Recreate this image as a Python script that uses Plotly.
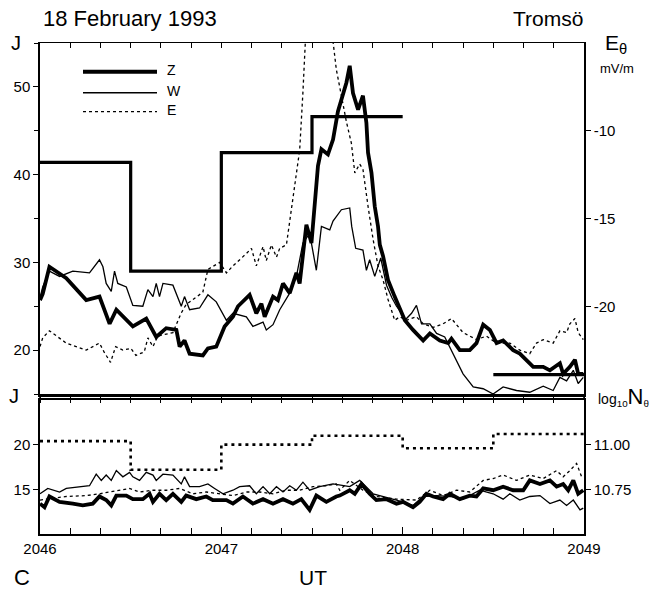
import plotly.graph_objects as go

# ---------------- DATA ----------------
# Top panel: Z (thick), W (thin) in J; E (dashed) in mV/m (right axis)
z_top_t = [2046.00, 2046.015, 2046.052, 2046.145, 2046.255, 2046.328, 2046.384, 2046.421, 2046.512, 2046.586,
           2046.641, 2046.696, 2046.752, 2046.770, 2046.797, 2046.825, 2046.898, 2046.926, 2046.972, 2047.018,
           2047.064, 2047.092, 2047.156, 2047.193, 2047.221, 2047.239, 2047.285, 2047.312, 2047.340, 2047.377,
           2047.414, 2047.432, 2047.469, 2047.497, 2047.533, 2047.552, 2047.588, 2047.616, 2047.643, 2047.690,
           2047.708, 2047.726, 2047.754, 2047.781, 2047.800, 2047.809, 2047.828, 2047.846, 2047.864, 2047.874,
           2047.892, 2047.919, 2047.956, 2047.984, 2048.012, 2048.057, 2048.113, 2048.150, 2048.205, 2048.251,
           2048.269, 2048.315, 2048.370, 2048.407, 2048.444, 2048.481, 2048.518, 2048.554, 2048.609, 2048.646,
           2048.683, 2048.720, 2048.775, 2048.812, 2048.867, 2048.885, 2048.922, 2048.950, 2048.968, 2048.996]
z_top_j = [25.7, 26.4, 29.5, 28.2, 25.7, 26.1, 23.0, 24.6, 22.7, 23.6,
           21.5, 22.5, 22.3, 20.4, 21.1, 19.6, 19.4, 20.2, 20.4, 22.7,
           23.8, 25.0, 26.3, 24.2, 25.3, 23.8, 26.1, 25.7, 27.6, 26.5,
           28.8, 27.6, 34.3, 32.2, 41.0, 42.9, 42.3, 44.0, 47.2, 50.5,
           52.4, 49.3, 47.4, 49.0, 45.9, 42.5, 40.2, 36.4, 34.1, 32.0,
           30.7, 28.0, 26.1, 24.6, 23.4, 22.3, 21.1, 21.9, 21.1, 20.8,
           21.3, 20.0, 20.0, 20.8, 22.9, 22.3, 20.8, 21.1, 20.0, 19.6,
           18.9, 18.1, 18.1, 17.7, 18.5, 17.3, 18.1, 18.9, 17.3, 17.3]

w_top_t = [2046.00, 2046.015, 2046.052, 2046.108, 2046.181, 2046.273, 2046.328, 2046.347, 2046.365, 2046.393,
           2046.411, 2046.429, 2046.476, 2046.512, 2046.567, 2046.595, 2046.623, 2046.641, 2046.659, 2046.678,
           2046.733, 2046.779, 2046.797, 2046.825, 2046.880, 2046.926, 2046.972, 2047.028, 2047.064, 2047.138,
           2047.174, 2047.230, 2047.248, 2047.285, 2047.322, 2047.377, 2047.414, 2047.450, 2047.487, 2047.524,
           2047.552, 2047.598, 2047.616, 2047.662, 2047.708, 2047.719, 2047.741, 2047.781, 2047.800, 2047.818,
           2047.846, 2047.879, 2047.911, 2047.940, 2047.966, 2047.995, 2048.012, 2048.049, 2048.076, 2048.104,
           2048.150, 2048.187, 2048.232, 2048.278, 2048.333, 2048.389, 2048.444, 2048.499, 2048.554, 2048.628,
           2048.701, 2048.775, 2048.830, 2048.867, 2048.904, 2048.941, 2048.968, 2048.996]
w_top_j = [26.0, 27.2, 29.0, 28.4, 29.0, 28.8, 30.3, 29.5, 27.6, 26.7,
           29.0, 27.6, 27.2, 25.1, 25.0, 26.9, 26.1, 27.6, 26.1, 27.6,
           27.4, 25.0, 26.1, 24.6, 24.8, 26.3, 25.5, 23.4, 24.2, 23.8,
           22.7, 23.2, 22.3, 22.9, 24.6, 26.5, 28.4, 32.2, 33.3, 29.1,
           34.1, 33.7, 34.7, 36.0, 36.2, 34.1, 31.6, 31.4, 29.1, 30.3,
           28.4, 30.5, 27.4, 26.0, 25.0, 24.2, 23.4, 24.2, 25.1, 23.0,
           23.0, 21.9, 21.5, 19.6, 17.3, 15.8, 15.6, 15.0, 15.8, 15.4,
           15.2, 15.9, 15.4, 16.9, 16.5, 17.7, 16.2, 16.9]

e_top_t = [2046.00, 2046.015, 2046.052, 2046.145, 2046.255, 2046.328, 2046.353, 2046.389, 2046.417, 2046.457,
           2046.501, 2046.529, 2046.575, 2046.595, 2046.623, 2046.650, 2046.733, 2046.778, 2046.806, 2046.862,
           2046.898, 2046.926, 2046.991, 2047.028, 2047.064, 2047.138, 2047.166, 2047.193, 2047.230, 2047.248,
           2047.276, 2047.304, 2047.322, 2047.359, 2047.395, 2047.432, 2047.450, 2047.470, 2047.600, 2047.616,
           2047.634, 2047.662, 2047.690, 2047.717, 2047.736, 2047.763, 2047.781, 2047.809, 2047.837, 2047.864,
           2047.892, 2047.919, 2047.956, 2047.984, 2048.021, 2048.076, 2048.113, 2048.168, 2048.223, 2048.269,
           2048.295, 2048.333, 2048.370, 2048.407, 2048.462, 2048.518, 2048.591, 2048.646, 2048.701, 2048.738,
           2048.775, 2048.830, 2048.867, 2048.904, 2048.922, 2048.950, 2048.968, 2048.996]
e_top_mv = [-22.3, -21.8, -21.4, -22.1, -22.5, -22.1, -22.6, -23.2, -22.3, -22.5,
            -22.4, -22.8, -22.6, -21.8, -22.3, -21.7, -21.5, -20.4, -19.9, -19.45,
            -19.2, -17.9, -17.5, -18.1, -17.7, -17.0, -16.7, -17.7, -16.6, -17.4,
            -16.5, -17.2, -16.7, -16.5, -13.9, -11.1, -7.8, -3.5, -3.5, -4.8,
            -6.5, -8.0, -9.5, -10.7, -12.4, -11.9, -12.2, -14.3, -16.2, -17.7,
            -18.5, -19.6, -20.8, -20.6, -20.8, -20.6, -21.0, -21.2, -21.0, -20.7,
            -21.0, -21.5, -21.7, -21.9, -21.7, -22.1, -22.1, -22.5, -22.7, -22.1,
            -21.9, -22.1, -21.4, -21.5, -21.0, -20.7, -21.5, -21.9]

# Top panel step (J)
step_top_t = [2046.0, 2046.5, 2047.0, 2047.5, 2048.0, 2048.5, 2048.5, 2049.0]
step_top_j = [41.4, 29.0, 42.5, 46.6, 46.6, None, 17.2, 17.2]

# Bottom panel: Z, W, E in J
w_bot_t = [2046.00, 2046.043, 2046.108, 2046.145, 2046.273, 2046.310, 2046.338, 2046.365, 2046.393, 2046.421,
           2046.457, 2046.494, 2046.512, 2046.549, 2046.586, 2046.623, 2046.641, 2046.678, 2046.733, 2046.779,
           2046.797, 2046.825, 2046.880, 2046.926, 2046.963, 2047.009, 2047.064, 2047.101, 2047.156, 2047.193,
           2047.230, 2047.267, 2047.304, 2047.340, 2047.377, 2047.414, 2047.450, 2047.487, 2047.542, 2047.616,
           2047.708, 2047.763, 2047.837, 2047.966, 2048.057, 2048.113, 2048.187, 2048.260, 2048.333, 2048.425,
           2048.499, 2048.554, 2048.591, 2048.646, 2048.701, 2048.757, 2048.812, 2048.867, 2048.904, 2048.941,
           2048.978, 2048.996]
w_bot_j = [14.5, 15.1, 14.7, 15.1, 15.4, 16.7, 16.0, 16.6, 16.0, 17.1,
           16.4, 16.9, 16.4, 16.0, 16.9, 16.6, 16.0, 16.7, 16.6, 15.6,
           16.4, 15.3, 15.3, 15.6, 15.1, 14.5, 14.9, 15.3, 15.4, 14.5,
           15.3, 14.5, 15.3, 14.7, 15.4, 14.9, 15.8, 14.9, 15.3, 15.6,
           15.3, 16.0, 14.5, 13.8, 13.2, 14.2, 14.3, 14.2, 13.9, 14.9,
           14.5, 13.9, 14.5, 13.8, 14.2, 14.3, 13.4, 13.8, 13.2, 13.8,
           12.7, 12.9]

z_bot_t = [2046.00, 2046.025, 2046.052, 2046.108, 2046.181, 2046.236, 2046.291, 2046.328, 2046.365, 2046.393,
           2046.421, 2046.476, 2046.512, 2046.567, 2046.604, 2046.623, 2046.659, 2046.696, 2046.733, 2046.779,
           2046.806, 2046.862, 2046.917, 2046.953, 2047.028, 2047.064, 2047.119, 2047.174, 2047.230, 2047.285,
           2047.340, 2047.395, 2047.441, 2047.487, 2047.524, 2047.579, 2047.634, 2047.653, 2047.708, 2047.736,
           2047.773, 2047.818, 2047.855, 2047.911, 2047.966, 2048.002, 2048.057, 2048.094, 2048.131, 2048.168,
           2048.223, 2048.260, 2048.315, 2048.370, 2048.407, 2048.444, 2048.499, 2048.554, 2048.609, 2048.665,
           2048.701, 2048.757, 2048.812, 2048.849, 2048.885, 2048.913, 2048.941, 2048.968, 2048.996]
z_bot_j = [13.4, 13.0, 14.2, 13.6, 13.4, 13.2, 13.4, 14.2, 13.8, 13.2,
           14.3, 14.3, 13.9, 13.9, 14.5, 13.6, 14.5, 13.8, 14.5, 13.6,
           14.3, 13.9, 14.2, 13.8, 13.8, 13.4, 14.2, 13.4, 13.9, 13.4,
           13.9, 13.4, 13.9, 12.7, 14.3, 13.6, 14.2, 14.3, 14.9, 14.5,
           15.6, 14.5, 13.8, 13.9, 13.4, 13.6, 13.0, 13.6, 14.5, 14.2,
           13.9, 14.5, 13.9, 14.3, 14.2, 15.1, 14.9, 15.3, 14.9, 14.9,
           16.0, 15.6, 16.0, 15.3, 15.6, 14.9, 16.0, 14.5, 14.9]

e_bot_t = [2046.00, 2046.145, 2046.255, 2046.328, 2046.494, 2046.549, 2046.623, 2046.696, 2046.770, 2046.843,
           2046.917, 2046.991, 2047.064, 2047.138, 2047.211, 2047.285, 2047.359, 2047.432, 2047.505, 2047.579,
           2047.634, 2047.653, 2047.708, 2047.781, 2047.855, 2047.966, 2048.076, 2048.150, 2048.223, 2048.297,
           2048.370, 2048.444, 2048.499, 2048.554, 2048.628, 2048.701, 2048.775, 2048.849, 2048.885, 2048.922,
           2048.959, 2048.987]
e_bot_j = [13.8, 14.2, 14.3, 14.5, 15.1, 14.7, 14.9, 14.9, 15.1, 14.5,
           14.7, 14.5, 14.3, 14.7, 14.7, 14.5, 14.9, 14.9, 15.3, 15.4,
           15.6, 14.9, 16.0, 14.9, 14.2, 13.9, 13.8, 14.9, 14.3, 14.9,
           14.7, 16.0, 16.2, 16.6, 16.0, 16.6, 16.2, 17.1, 16.4, 17.1,
           17.9, 16.4]

# Bottom panel step (log10 Ne, right axis)
step_bot_t = [2046.0, 2046.5, 2047.0, 2047.5, 2048.0, 2048.5, 2049.0]
step_bot_ne = [11.02, 10.86, 11.00, 11.05, 10.98, 11.06, 11.06]

x_tick_vals = [2046, 2047, 2048, 2049]
x_tick_text = ["2046", "2047", "2048", "2049"]
j_top_ticks = [20, 30, 40, 50]
e_ticks = [-10, -15, -20]
e_tick_text = ["-10", "-15", "-20"]
j_bot_ticks = [15, 20]
ne_ticks = [10.75, 11.00]
ne_tick_text = ["10.75", "11.00"]

# ---------------- FIGURE ----------------
W, H = 671, 589
ML, MR, MT, MB = 40, 87, 43, 55
PW, PH = W - ML - MR, H - MT - MB
FONT = "Liberation Sans, Arial, sans-serif"


def px(x):
    return (x - ML) / PW


def py(y):
    return (H - MB - y) / PH


top_dom = [py(394), 1.0]
bot_dom = [0.0, py(400)]

fig = go.Figure()

# top panel
fig.add_trace(go.Scatter(x=step_top_t, y=step_top_j, mode="lines", line=dict(color="black", width=3.2, shape="hv"),
                         connectgaps=False, xaxis="x3", yaxis="y", hoverinfo="skip"))
fig.add_trace(go.Scatter(x=w_top_t, y=w_top_j, mode="lines", line=dict(color="black", width=1.3),
                         xaxis="x", yaxis="y"))
fig.add_trace(go.Scatter(x=e_top_t, y=e_top_mv, mode="lines", line=dict(color="black", width=1.3, dash="3px,3px"),
                         xaxis="x", yaxis="y2"))
fig.add_trace(go.Scatter(x=z_top_t, y=z_top_j, mode="lines", line=dict(color="black", width=3.8),
                         xaxis="x", yaxis="y"))

# bottom panel
fig.add_trace(go.Scatter(x=step_bot_t, y=step_bot_ne, mode="lines",
                         line=dict(color="black", width=2.6, shape="hv", dash="3px,4px"),
                         xaxis="x2", yaxis="y4"))
fig.add_trace(go.Scatter(x=w_bot_t, y=w_bot_j, mode="lines", line=dict(color="black", width=1.3),
                         xaxis="x2", yaxis="y3"))
fig.add_trace(go.Scatter(x=e_bot_t, y=e_bot_j, mode="lines", line=dict(color="black", width=1.3, dash="3px,3px"),
                         xaxis="x2", yaxis="y3"))
fig.add_trace(go.Scatter(x=z_bot_t, y=z_bot_j, mode="lines", line=dict(color="black", width=3.8),
                         xaxis="x2", yaxis="y3"))

xcommon = dict(range=[2046, 2049], showgrid=False, zeroline=False, showline=True, linecolor="black")

fig.update_layout(
    width=W, height=H,
    margin=dict(l=ML, r=MR, t=MT, b=MB),
    paper_bgcolor="white", plot_bgcolor="white",
    showlegend=False,
    font=dict(family=FONT, color="black", size=14),
    xaxis=dict(**xcommon, anchor="y", domain=[0, 1], linewidth=2.6, showticklabels=False,
               ticks="outside", ticklen=6, tickwidth=1.2, tick0=2046, dtick=1 / 6, tickcolor="black"),
    xaxis3=dict(**xcommon, anchor="y", overlaying="x", side="top", matches="x", linewidth=1.3,
                showticklabels=False, ticks="inside", ticklen=5, tickwidth=1.2, tick0=2046, dtick=1 / 6,
                tickcolor="black"),
    xaxis2=dict(**xcommon, anchor="y3", domain=[0, 1], linewidth=1.5, mirror=True,
                tickmode="array", tickvals=x_tick_vals, ticktext=x_tick_text,
                ticks="inside", ticklen=7, tickwidth=1.2, tickcolor="black",
                minor=dict(ticks="inside", ticklen=6, tickwidth=1.2, tick0=2046, dtick=1 / 6, tickcolor="black"),
                tickfont=dict(size=15, family=FONT)),
    yaxis=dict(domain=top_dom, anchor="x", range=[15, 55], showgrid=False, zeroline=False, showline=True,
               linecolor="black", linewidth=1.5, tickmode="array", tickvals=j_top_ticks,
               ticks="outside", ticklen=5, tickwidth=1.2, tickcolor="black",
               minor=dict(ticks="outside", ticklen=4, tickwidth=1, dtick=5, tick0=15, tickcolor="black"),
               tickfont=dict(size=15, family=FONT)),
    yaxis2=dict(overlaying="y", side="right", anchor="x", range=[-25, -5], showgrid=False, zeroline=False,
                showline=True, linecolor="black", linewidth=1.5, tickmode="array", tickvals=e_ticks,
                ticktext=e_tick_text, ticks="outside", ticklen=5, tickwidth=1.2, tickcolor="black",
                tickfont=dict(size=15, family=FONT)),
    yaxis3=dict(domain=bot_dom, anchor="x2", range=[10, 25], showgrid=False, zeroline=False, showline=True,
                linecolor="black", linewidth=1.5, tickmode="array", tickvals=j_bot_ticks,
                ticks="outside", ticklen=5, tickwidth=1.2, tickcolor="black",
                tickfont=dict(size=15, family=FONT)),
    yaxis4=dict(overlaying="y3", side="right", anchor="x2", range=[10.5, 11.25], showgrid=False,
                zeroline=False, showline=True, linecolor="black", linewidth=1.5, tickmode="array",
                tickvals=ne_ticks, ticktext=ne_tick_text, ticks="outside", ticklen=5, tickwidth=1.2,
                tickcolor="black", tickfont=dict(size=15, family=FONT)),
)

# connect the vertical axis lines through the gap between panels
for xx in (0, 1):
    fig.add_shape(type="line", xref="paper", yref="paper", x0=xx, x1=xx, y0=py(400), y1=py(394),
                  line=dict(color="black", width=1.5))

# legend (drawn manually)
leg = [(71.7, "Z", dict(color="black", width=4)),
       (92.7, "W", dict(color="black", width=1.5)),
       (111.7, "E", dict(color="black", width=1.3, dash="3px,3px"))]
for yy, name, ln in leg:
    fig.add_shape(type="line", xref="paper", yref="paper", x0=px(83), x1=px(157), y0=py(yy), y1=py(yy), line=ln)
    fig.add_annotation(x=px(165), y=py(yy - 1.5), xref="paper", yref="paper", text=name, showarrow=False,
                       xanchor="left", yanchor="middle", font=dict(size=14, family=FONT))


def ann(x, y, text, size, xanchor="left"):
    fig.add_annotation(x=px(x), y=py(y), xref="paper", yref="paper", text=text, showarrow=False,
                       xanchor=xanchor, yanchor="middle", font=dict(size=size, family=FONT, color="black"))


ann(41, 19, "18 February 1993", 22)
ann(585, 19, "Tromsö", 21, xanchor="right")
ann(9, 43, "J", 20)
ann(7, 396, "J", 20)
ann(603, 44, "E<sub>θ</sub>", 21)
ann(598, 69, "mV/m", 13)
ann(596, 396, "log<sub>10</sub><span style='font-size:22px'>N</span><sub>θ</sub>", 14)
ann(12, 577, "C", 22)
ann(313, 577, "UT", 21, xanchor="center")

fig.write_html("out.html", config={"displayModeBar": False},
               post_script="document.body.style.margin='0';document.body.style.overflow='hidden';")
